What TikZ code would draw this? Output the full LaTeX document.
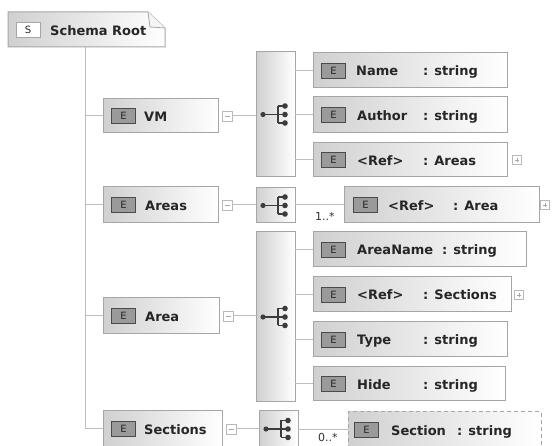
\documentclass[tikz,border=0pt]{standalone}
\usepackage{fontspec}
\setmainfont{DejaVu Sans}
\definecolor{boxline}{HTML}{A6A6A6}
\definecolor{boxL}{HTML}{D0D0D0}
\definecolor{icoline}{HTML}{4A4A4A}
\definecolor{icofill}{HTML}{9A9A9A}
\definecolor{connc}{HTML}{BDBDBD}
\definecolor{icond}{HTML}{3C3C3C}
\begin{document}
\begin{tikzpicture}[x=1pt,y=-1pt,
  elem/.style={draw=boxline, line width=1pt, left color=boxL, right color=white, inner sep=0pt, outer sep=0pt, anchor=north west},
  eicon/.style={draw=icoline, fill=icofill, line width=0.9pt, minimum width=24pt, minimum height=15pt, inner sep=0pt, anchor=west, font=\fontsize{10}{12}\selectfont, text=black!85},
  sicon/.style={draw=gray!70, fill=white, line width=0.9pt, minimum width=24pt, minimum height=15pt, inner sep=0pt, font=\fontsize{10}{12}\selectfont, text=black!85},
  lbl/.style={font=\bfseries\fontsize{13}{15}\selectfont, inner sep=0pt, anchor=base west, text=black!85},
  card/.style={font=\fontsize{11}{13}\selectfont, inner sep=0pt, anchor=base west, text=black!80},
  conn/.style={draw=connc, line width=1pt},
  tgl/.style={draw=gray!55, fill=white, line width=0.8pt, minimum size=10pt, inner sep=0pt},
  seqicon/.pic={
    \draw[icond, line width=1.2pt] (-12.5,0) -- (2.5,0) (2.5,-8.5) -- (2.5,8.5)
      (2.5,-8.5) -- (9.5,-8.5) (2.5,8.5) -- (9.5,8.5) (2.5,0) -- (9.5,0);
    \fill[icond] (-12.5,0) circle (2.6pt) (9.5,-8.5) circle (2.8pt) (9.5,0) circle (2.8pt) (9.5,8.5) circle (2.8pt);
  }
]
\useasboundingbox (0,0) rectangle (552,446);
\fill[white] (0,0) rectangle (552,446);
\clip (0,0) rectangle (552,446);

% root
\node[inner sep=0pt, outer sep=0pt, anchor=north west, minimum width=157pt, minimum height=35pt] (root) at (8,12) {};
\path[draw=boxline, line width=1pt, left color=boxL, right color=white]
  (root.north west) -- ([xshift=-17pt]root.north east) -- ([yshift=-16pt]root.north east)
  -- (root.south east) -- (root.south west) -- cycle;
\draw[boxline, line width=0.8pt, fill=gray!8] ([xshift=-17pt]root.north east) -- ([xshift=-15pt,yshift=-15pt]root.north east) -- ([yshift=-16pt]root.north east);
\node[sicon] (root-i) at (28,29.5) {S};
\node[lbl] (root-t) at (50,35.5) {Schema Root};

% level 1 elements
\node[elem, minimum width=115pt, minimum height=34pt] (vm) at (103,99) {};
\node[elem, minimum width=115pt, minimum height=36pt] (areas) at (103,187) {};
\node[elem, minimum width=116pt, minimum height=36pt] (area) at (103,298) {};
\node[elem, minimum width=119pt, minimum height=36pt] (sections) at (103,411) {};
\foreach \n in {vm,areas,area,sections} {\node[eicon] (\n-i) at ([xshift=8pt]\n.west) {E};}
\node[lbl] (vm-t) at (144,121.5) {VM};
\node[lbl] (areas-t) at (145,210.5) {Areas};
\node[lbl] (area-t) at (145,321.5) {Area};
\node[lbl] (sections-t) at (144,434.5) {Sections};

% trunk
\coordinate (tx) at (85,0);
\draw[conn] (tx |- root.south) |- (sections.west);
\foreach \n in {vm,areas,area} {\draw[conn] (tx |- \n.west) -- (\n.west);}

% toggles
\node[tgl] (mvm) at (227.5,116) {};
\node[tgl] (mareas) at (227.5,205) {};
\node[tgl] (marea) at (228,316) {};
\node[tgl] (msections) at (231,429) {};
\foreach \n in {mvm,mareas,marea,msections} {\draw[gray!70, line width=0.7pt] ([xshift=-2.5pt]\n.center) -- ([xshift=2.5pt]\n.center);}

% sequence boxes
\node[elem, minimum width=39pt, minimum height=125pt] (seqvm) at (256,52) {};
\node[elem, minimum width=39pt, minimum height=35pt] (seqareas) at (256,188) {};
\node[elem, minimum width=39pt, minimum height=170pt] (seqarea) at (256,232) {};
\node[elem, minimum width=39pt, minimum height=36pt] (seqsec) at (259,411) {};
\foreach \n in {seqvm,seqareas,seqarea,seqsec} {\pic at (\n.center) {seqicon};}
\draw[conn] (mvm.east) -- (mvm.east -| seqvm.west);
\draw[conn] (mareas.east) -- (mareas.east -| seqareas.west);
\draw[conn] (marea.east) -- (marea.east -| seqarea.west);
\draw[conn] (msections.east) -- (msections.east -| seqsec.west);

% children
\node[elem, minimum width=194pt, minimum height=35pt] (name) at (313,53) {};
\node[elem, minimum width=194pt, minimum height=36pt] (author) at (313,97) {};
\node[elem, minimum width=194pt, minimum height=34pt] (refareas) at (313,143) {};
\node[elem, minimum width=195pt, minimum height=36pt] (refarea) at (344,187) {};
\node[elem, minimum width=213pt, minimum height=35pt] (areaname) at (313,232) {};
\node[elem, minimum width=198pt, minimum height=35pt] (refsections) at (313,277) {};
\node[elem, minimum width=194pt, minimum height=35pt] (type) at (313,322) {};
\node[elem, minimum width=192pt, minimum height=34pt] (hide) at (313,367) {};
\node[elem, dashed, dash pattern=on 4pt off 3pt, minimum width=193pt, minimum height=36pt] (section) at (348,412) {};
\foreach \n in {name,author,refareas,areaname,refsections,type,hide} {\node[eicon] (\n-i) at ([xshift=8pt]\n.west) {E};}
\node[eicon] (refarea-i) at ([xshift=9pt]refarea.west) {E};
\node[eicon] (section-i) at ([xshift=6pt]section.west) {E};

\node[lbl] (name-t) at (356,76) {Name};
\node[lbl] (name-y) at (423,76) {: string};
\node[lbl] (author-t) at (357,120.5) {Author};
\node[lbl] (author-y) at (423,120.5) {: string};
\node[lbl] (refareas-t) at (357,165.5) {<Ref>};
\node[lbl] (refareas-y) at (423,165.5) {: Areas};
\node[lbl] (refarea-t) at (388,210.5) {<Ref>};
\node[lbl] (refarea-y) at (453,210.5) {: Area};
\node[lbl] (areaname-t) at (357,255) {AreaName};
\node[lbl] (areaname-y) at (442,255) {: string};
\node[lbl] (refsections-t) at (357,300) {<Ref>};
\node[lbl] (refsections-y) at (423,300) {: Sections};
\node[lbl] (type-t) at (357,345) {Type};
\node[lbl] (type-y) at (423,345) {: string};
\node[lbl] (hide-t) at (357,389.5) {Hide};
\node[lbl] (hide-y) at (423,389.5) {: string};
\node[lbl] (section-t) at (391,435.5) {Section};
\node[lbl] (section-y) at (457,435.5) {: string};

% expand toggles
\node[tgl, minimum size=9pt] (prefareas) at (517,160) {};
\node[tgl, minimum size=9pt] (prefarea) at (545,205) {};
\node[tgl, minimum size=9pt] (prefsections) at (519,295) {};
\foreach \n in {prefareas,prefarea,prefsections} {\draw[gray!70, line width=0.6pt] ([xshift=-2pt]\n.center) -- ([xshift=2pt]\n.center) ([yshift=-2pt]\n.center) -- ([yshift=2pt]\n.center);}

% child connectors
\foreach \n in {name,author,refareas} {\draw[conn] (seqvm.east |- \n.west) -- (\n.west);}
\foreach \n in {areaname,refsections,type,hide} {\draw[conn] (seqarea.east |- \n.west) -- (\n.west);}
\draw[conn] (seqareas.east |- refarea.west) -- (refarea.west);
\draw[conn] (seqsec.east |- section.west) -- (section.west);
\node[card] (c1) at (315,221) {1..*};
\node[card] (c2) at (318,442) {0..*};
\end{tikzpicture}
\end{document}
